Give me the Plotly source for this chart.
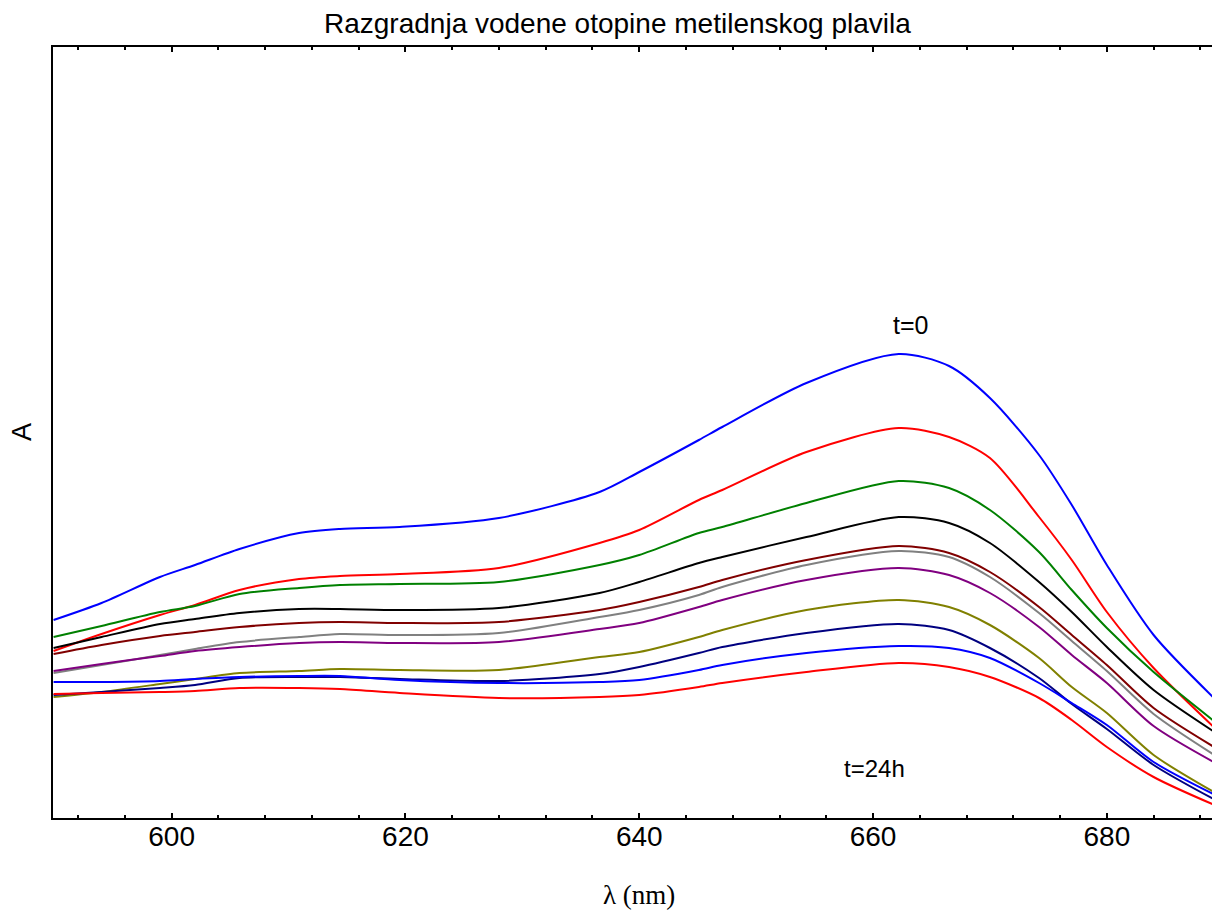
import plotly.graph_objects as go

# wavelengths (nm)
wavelength = [589.9, 594, 599, 602, 605.8, 610.9, 614.4, 619.5, 628, 636.6, 640,
              645.1, 647.1, 654.3, 662.2, 666.5, 670, 674.2, 677, 680, 684, 689.6]

# absorbance spectra (arbitrary units), from t=0 (top) to t=24h (bottom)
s_blue   = [.198, .215, .241, .253, .269, .285, .289, .291, .300, .326, .346, .378, .391, .435, .464, .452, .420, .363, .313, .253, .183, .115]
s_red    = [.167, .184, .203, .213, .228, .239, .242, .244, .250, .275, .288, .318, .328, .366, .390, .381, .360, .301, .258, .206, .150, .086]
s_green  = [.181, .192, .206, .212, .224, .230, .233, .234, .236, .253, .263, .285, .291, .315, .337, .330, .308, .266, .228, .190, .146, .093]
s_black  = [.170, .181, .194, .199, .205, .209, .209, .208, .210, .225, .236, .255, .261, .281, .301, .295, .275, .236, .206, .171, .128, .083]
s_maroon = [.164, .173, .182, .186, .191, .195, .196, .195, .196, .208, .216, .231, .238, .258, .272, .265, .246, .211, .183, .153, .110, .068]
s_gray   = [.145, .153, .163, .169, .176, .181, .184, .183, .185, .201, .208, .223, .231, .253, .267, .261, .241, .205, .177, .147, .104, .060]
s_purple = [.147, .154, .162, .167, .171, .175, .176, .175, .176, .189, .195, .211, .218, .238, .250, .243, .225, .191, .163, .135, .092, .053]
s_olive  = [.121, .126, .134, .139, .145, .147, .149, .148, .148, .161, .166, .181, .188, .208, .218, .211, .193, .160, .131, .105, .063, .023]
s_navy   = [.123, .126, .130, .133, .140, .141, .141, .139, .137, .144, .151, .165, .171, .185, .194, .188, .170, .140, .114, .089, .053, .016]
s_blue2  = [.136, .136, .137, .139, .141, .142, .142, .138, .135, .136, .138, .148, .153, .165, .172, .170, .160, .135, .115, .093, .056, .021]
s_red2   = [.124, .125, .126, .127, .130, .130, .129, .125, .120, .121, .123, .131, .135, .146, .155, .151, .141, .120, .098, .071, .041, .011]

series = [s_blue, s_red, s_green, s_black, s_maroon, s_gray, s_purple,
          s_olive, s_navy, s_blue2, s_red2]
colors = ["#0000FF", "#FF0000", "#008000", "#000000", "#800000", "#808080",
          "#800080", "#808000", "#000080", "#0000FF", "#FF0000"]

x_ticks = [600, 620, 640, 660, 680]

fig = go.Figure()
for s, c in zip(series, colors):
    fig.add_trace(go.Scatter(x=wavelength, y=s, mode="lines",
                             line=dict(color=c, width=2, shape="spline", smoothing=0.8),
                             showlegend=False, hoverinfo="skip"))

FONT = "Liberation Sans, Arial, sans-serif"

# page body has an 8px margin: plot area starts at x=53, y=47 in the window
ML, MT, PW, PH = 45, 39, 1159, 771
H = 902
PX_PER_NM = 11.69
X0 = 589.85
X1 = X0 + PW / PX_PER_NM

fig.update_layout(
    width=ML + PW, height=H,
    margin=dict(l=ML, r=0, t=MT, b=H - MT - PH),
    paper_bgcolor="white", plot_bgcolor="white",
    font=dict(family=FONT, color="black"),
    xaxis=dict(range=[X0, X1], tickvals=x_ticks,
               ticks="inside", ticklen=5, tickwidth=2, tickcolor="black",
               minor=dict(dtick=4, tick0=600, ticks="inside", ticklen=3,
                          tickwidth=2, tickcolor="black", showgrid=False),
               showline=True, linecolor="black", linewidth=2, mirror="ticks",
               showgrid=False, zeroline=False,
               tickfont=dict(size=28, family=FONT), ticklabelstandoff=-8),
    yaxis=dict(range=[0, 0.771], showticklabels=False, ticks="",
               showline=True, linecolor="black", linewidth=2, mirror=False,
               showgrid=False, zeroline=False),
    annotations=[
        dict(text="Razgradnja vodene otopine metilenskog plavila", xref="paper", yref="paper",
             x=(617 - 53) / PW, y=(818 - 23) / PH, xanchor="center", yanchor="middle",
             showarrow=False, font=dict(size=28, family=FONT)),
        dict(text="λ (nm)", xref="paper", yref="paper",
             x=(639 - 53) / PW, y=(818 - 895) / PH, xanchor="center", yanchor="middle",
             showarrow=False, font=dict(size=27, family="Liberation Serif, Times New Roman, serif")),
        dict(text="A", xref="paper", yref="paper",
             x=(22 - 53) / PW, y=(818 - 432) / PH, xanchor="center", yanchor="middle",
             textangle=-90, showarrow=False, font=dict(size=27, family=FONT)),
        dict(text="t=0", x=663.24, y=0.493, xanchor="center", yanchor="middle",
             showarrow=False, font=dict(size=25, family=FONT)),
        dict(text="t=24h", x=660.16, y=0.050, xanchor="center", yanchor="middle",
             showarrow=False, font=dict(size=24, family=FONT)),
    ],
)

fig.write_html("out.html")
